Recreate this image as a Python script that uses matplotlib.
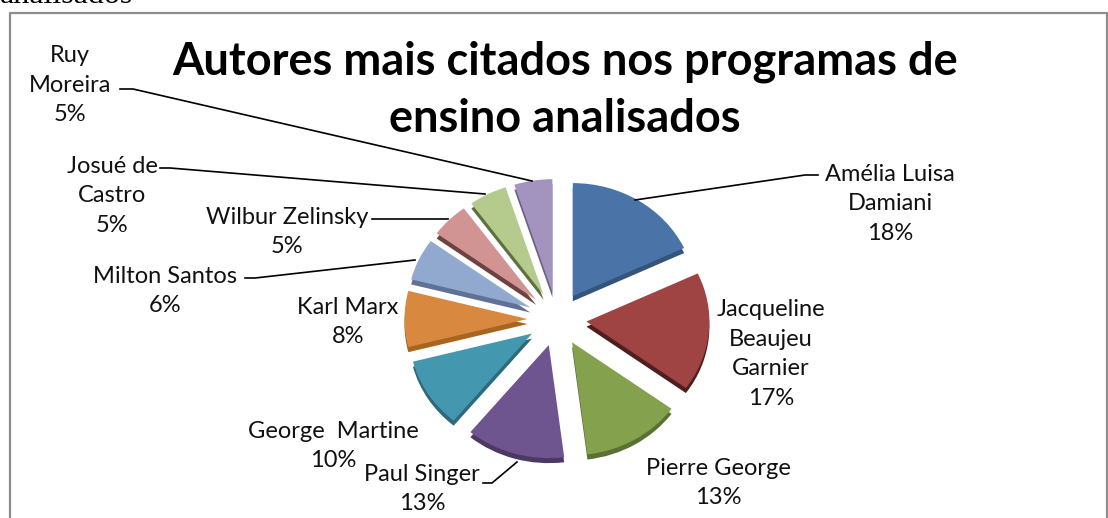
import matplotlib
matplotlib.use("Agg")
import matplotlib.pyplot as plt

W, H = 1108, 518
names = ["Amélia Luisa\nDamiani", "Jacqueline\nBeaujeu\nGarnier", "Pierre George", "Paul Singer",
         "George  Martine", "Karl Marx", "Milton Santos", "Wilbur Zelinsky", "Josué de\nCastro", "Ruy\nMoreira"]
values = [18, 17, 13, 13, 10, 8, 6, 5, 5, 5]
colors = ["#4A74A8", "#A04343", "#84A24E", "#6E5590", "#4397AE", "#D9883F", "#92A9CF", "#D19492", "#B5CB8D", "#A294BE"]
dark = ["#35547A", "#4F1F1F", "#5B7035", "#4A3963", "#2E6A7B", "#A8651F", "#5F7195", "#6E4241", "#5F7040", "#6C6283"]
label_xy = [(890, 204), (771, 354), (718, 483), (422, 489), (333, 446), (348, 322), (165, 291), (287, 232), (112, 196), (70, 85)]
leaders = [[(635, 200), (805, 175), (818, 175)],
           None, None,
           [(517, 462), (492, 483), (483, 483)],
           None, None,
           [(415, 260), (255, 278), (245, 278)],
           [(448, 219), (378, 219), (372, 219)],
           [(485, 194), (170, 168), (160, 168)],
           [(532, 181), (133, 89), (120, 89)]]

plt.rcParams["font.family"] = ["Lato", "DejaVu Sans"]
fig = plt.figure(figsize=(W / 100, H / 100), dpi=100)

bg = fig.add_axes([0, 0, 1, 1])
bg.set_xlim(0, W)
bg.set_ylim(H, 0)
bg.axis("off")
bg.plot([9.5, 9.5, 1106.5, 1106.5], [H, 12.5, 12.5, H], color="#8C8C8C", lw=1.6)
bg.text(133, 3, "analisados", family="Liberation Serif", fontsize=23, ha="right", va="baseline", color="black")

cx, cy, rx, ry = 557, 319, 123, 113
ax = fig.add_axes([(cx - 2 * rx) / W, 1 - (cy + 2 * ry) / H, 4 * rx / W, 4 * ry / H])
explode = [0.24] * len(values)
ax.pie(values, colors=dark, explode=explode, startangle=90, counterclock=False, center=(0, -0.045))
ax.pie(values, colors=colors, explode=explode, startangle=90, counterclock=False, center=(0, 0))
ax.set_aspect("auto")
ax.set_xlim(-2, 2)
ax.set_ylim(-2, 2)
ax.axis("off")

bg2 = fig.add_axes([0, 0, 1, 1])
bg2.set_xlim(0, W)
bg2.set_ylim(H, 0)
bg2.axis("off")
bg2.patch.set_alpha(0)
for n, v, (x, y), l in zip(names, values, label_xy, leaders):
    bg2.text(x, y, f"{n}\n{v}%", ha="center", va="center", fontsize=17, linespacing=1.52, color="#111111")
    if l:
        bg2.plot(*zip(*l), color="black", lw=1.2)
bg2.text(565, 90, "Autores mais citados nos programas de\nensino analisados", ha="center", va="center",
         fontsize=32.5, fontweight="bold", linespacing=1.44, color="black")

fig.savefig("out.png", dpi=100)
